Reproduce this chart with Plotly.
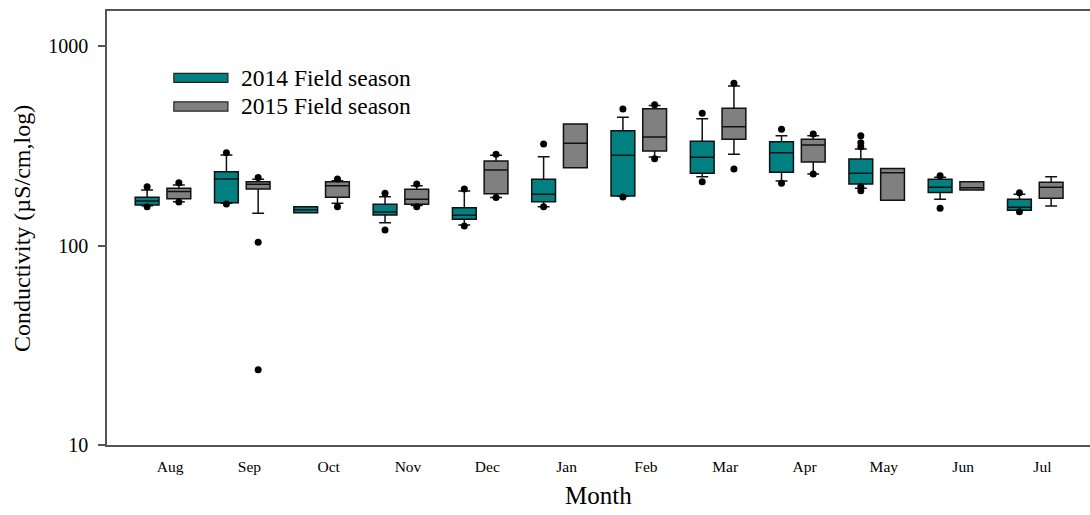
import plotly.graph_objects as go

# Monthly conductivity summaries (µS/cm), two field seasons
months = ["Aug", "Sep", "Oct", "Nov", "Dec", "Jan", "Feb", "Mar", "Apr", "May", "Jun", "Jul"]

q1_2014 = [159.6, 163.9, 146.1, 142.2, 135.3, 165.8, 177.2, 230.1, 232.8, 203.4, 184.6, 150.2]
med_2014 = [167.2, 215.5, 151.0, 147.2, 141.7, 180.6, 283.2, 276.7, 291.8, 230.1, 195.7, 155.4]
q3_2014 = [174.5, 234.4, 156.5, 160.9, 154.7, 214.7, 376.2, 333.0, 331.4, 271.4, 214.7, 170.4]
lo_2014 = [158.0, 163.0, 146.1, 130.1, 126.7, 156.5, 176.5, 221.3, 210.6, 193.5, 170.4, 150.0]
hi_2014 = [189.7, 284.1, 156.5, 175.6, 187.5, 278.6, 439.2, 432.1, 355.2, 304.6, 219.8, 180.6]
out_2014 = [
    [197.0, 156.5],
    [291.7, 161.5],
    [],
    [182.6, 119.6],
    [191.9, 125.3],
    [322.6, 156.5],
    [483.3, 175.0],
    [459.8, 208.8],
    [382.3, 205.0],
    [355.2, 327.6, 312.8, 197.1, 188.2],
    [223.8, 153.7],
    [183.9, 147.7],
]

q1_2015 = [171.7, 191.9, 174.5, 160.9, 181.8, 245.5, 297.7, 340.7, 262.1, 168.5, 189.7, 172.4]
med_2015 = [186.4, 202.6, 199.4, 170.5, 239.0, 325.3, 349.9, 393.9, 318.9, 231.4, 194.8, 195.7]
q3_2015 = [193.5, 208.9, 208.9, 191.2, 264.9, 406.4, 485.0, 487.3, 340.7, 243.2, 208.9, 207.4]
lo_2015 = [165.8, 145.0, 162.8, 158.7, 174.1, 245.5, 277.7, 286.5, 228.2, 168.5, 189.7, 157.8]
hi_2015 = [201.0, 214.7, 211.3, 199.4, 283.2, 406.4, 503.0, 630.2, 355.2, 243.2, 208.9, 221.3]
out_2015 = [
    [206.4, 165.0],
    [218.9, 103.8, 23.8],
    [215.5, 156.5],
    [203.4, 156.5],
    [286.5, 174.1],
    [],
    [507.0, 272.3],
    [650.1, 241.9],
    [362.2, 228.2],
    [],
    [],
    [],
]

seasons = [
    ("2014 Field season", "#008080", -0.2, q1_2014, med_2014, q3_2014, lo_2014, hi_2014, out_2014),
    ("2015 Field season", "#808080", 0.2, q1_2015, med_2015, q3_2015, lo_2015, hi_2015, out_2015),
]

FONT = "Liberation Serif, Times New Roman, serif"
fig = go.Figure()

for name, color, shift, q1, med, q3, lo, hi, outs in seasons:
    xpos = [i + shift for i in range(len(months))]
    fig.add_trace(go.Box(
        x=xpos, q1=q1, median=med, q3=q3, lowerfence=lo, upperfence=hi,
        width=0.3, whiskerwidth=0.5,
        fillcolor=color, line=dict(color="#111111", width=1.5),
        name=name, showlegend=False, boxpoints=False,
    ))
    ox, oy = [], []
    for i, vals in enumerate(outs):
        for v in vals:
            ox.append(i + shift)
            oy.append(v)
    fig.add_trace(go.Scatter(
        x=ox, y=oy, mode="markers",
        marker=dict(color="black", size=7),
        showlegend=False, hoverinfo="y",
    ))

# Legend drawn as flat swatches with labels
legend_rows = [("2014 Field season", "#008080", 0.846), ("2015 Field season", "#808080", 0.780)]
for label, color, yc in legend_rows:
    fig.add_shape(type="rect", xref="paper", yref="paper",
                  x0=0.068, x1=0.123, y0=yc - 0.0105, y1=yc + 0.0105,
                  fillcolor=color, line=dict(color="#222222", width=1.2))
    fig.add_annotation(xref="paper", yref="paper", x=0.134, y=yc, text=label,
                       showarrow=False, xanchor="left", yanchor="middle",
                       font=dict(family=FONT, size=23.5, color="black"))

fig.add_annotation(xref="paper", yref="paper", x=-0.0865, y=0.5,
                   text="Conductivity (µS/cm,log)", textangle=-90, showarrow=False,
                   xanchor="center", yanchor="middle",
                   font=dict(family=FONT, size=24, color="black"))
fig.add_annotation(xref="paper", yref="paper", x=0.5, y=-0.1175, text="Month",
                   showarrow=False, xanchor="center", yanchor="middle",
                   font=dict(family=FONT, size=25, color="black"))

fig.update_layout(
    width=1090, height=515,
    margin=dict(l=107, r=0, t=11, b=70),
    paper_bgcolor="white", plot_bgcolor="white",
    boxmode="overlay",
    font=dict(family=FONT, color="black"),
    xaxis=dict(
        range=[-0.706, 11.69],
        tickvals=[i + 0.09 for i in range(len(months))], ticktext=months,
        ticks="", showgrid=False, zeroline=False,
        showline=True, linecolor="#555555", linewidth=1.5, mirror=True,
        tickfont=dict(family=FONT, size=15.5, color="black"),
        ticklabelstandoff=7,
    ),
    yaxis=dict(
        type="log", range=[1, 3.1754],
        tickvals=[10, 100, 1000], ticktext=["10", "100", "1000"],
        ticks="outside", ticklen=7, tickwidth=1.5, tickcolor="#555555",
        showgrid=False, zeroline=False,
        showline=True, linecolor="#555555", linewidth=1.5,
        tickfont=dict(family=FONT, size=20, color="black"),
        ticklabelstandoff=6,
    ),
)

fig.write_html("out.html")
